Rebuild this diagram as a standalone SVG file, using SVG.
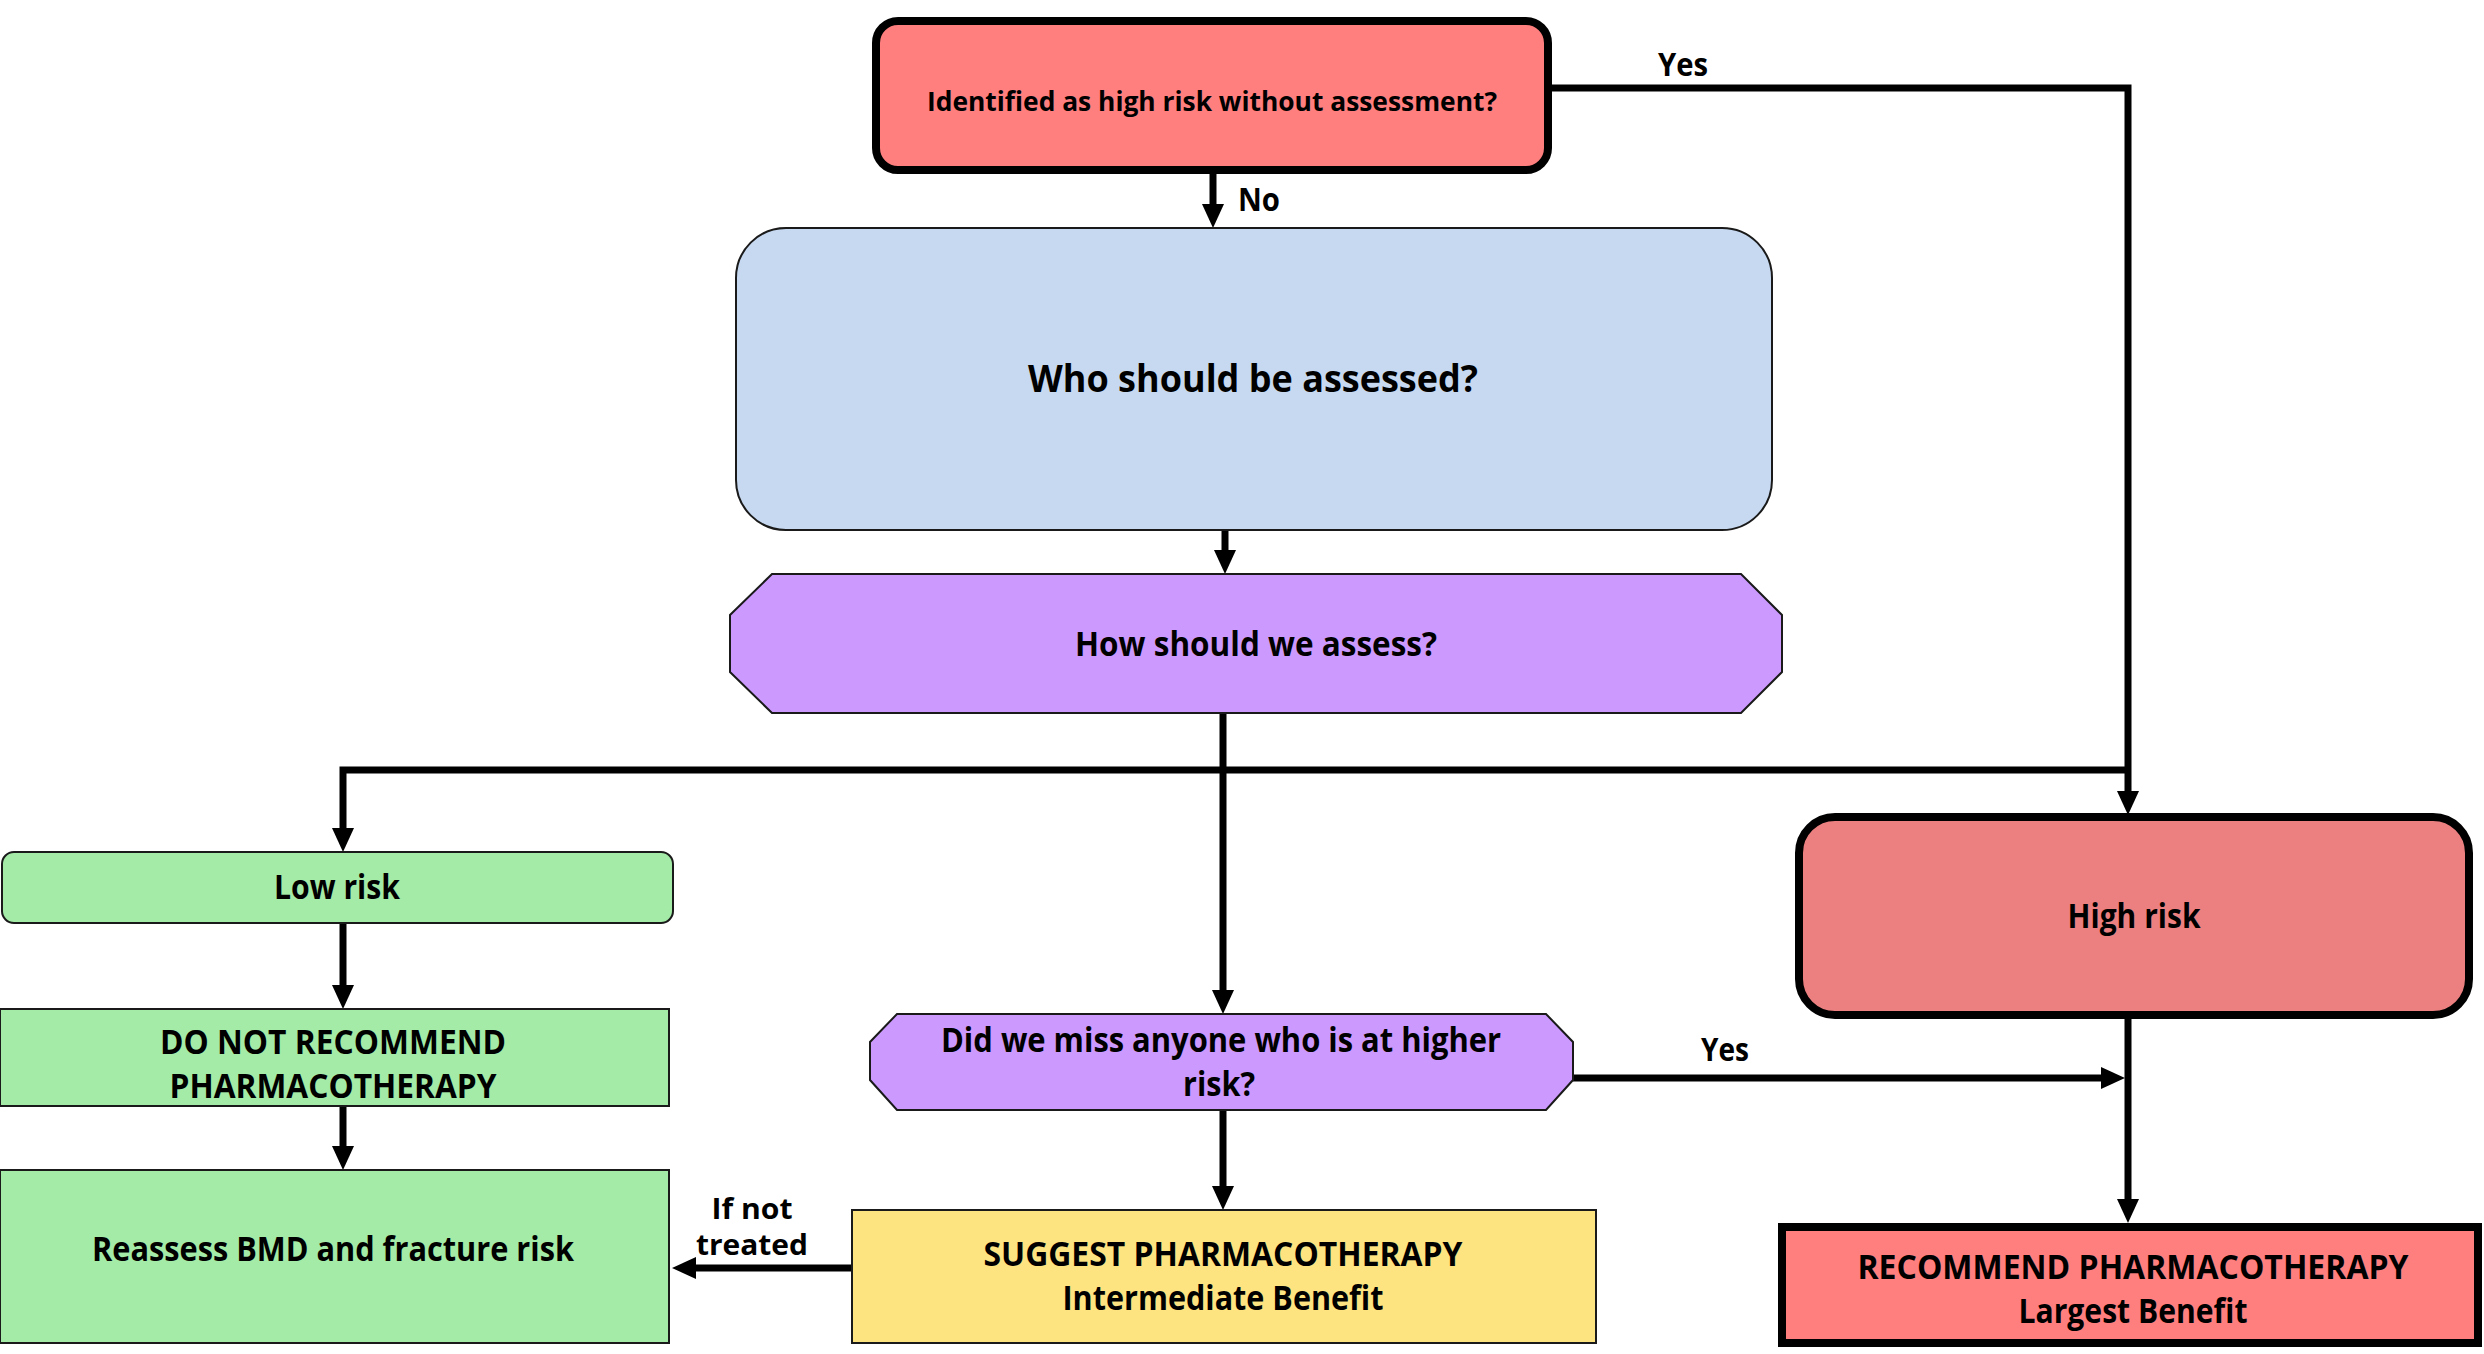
<svg xmlns="http://www.w3.org/2000/svg" width="2484" height="1354" viewBox="0 0 2484 1354">
<style>
  text { font-family: "Open Sans", "Liberation Sans", sans-serif; font-weight: 700; fill: #000; text-anchor: middle; }
  .t34 { font-size: 34px; }
  .t26 { font-size: 26px; }
  .t37 { font-size: 37px; }
  .lbl { font-size: 32px; }
  .lbs { font-size: 29px; }
  .thin { stroke: #1a1a1a; stroke-width: 2; }
  .thick { stroke: #000; stroke-width: 8; }
  .conn { fill: none; stroke: #000; stroke-width: 7; }
</style>
<defs>
  <marker id="arr" markerUnits="userSpaceOnUse" markerWidth="24" markerHeight="22" refX="0" refY="11" orient="auto">
    <path d="M0,0 L24,11 L0,22 z" fill="#000"/>
  </marker>
</defs>
<rect width="2484" height="1354" fill="#fff"/>

<g id="connectors">
  <path class="conn" d="M1213,174 V204" marker-end="url(#arr)"/>
  <path class="conn" d="M1551,88 H2128 V791" marker-end="url(#arr)"/>
  <path class="conn" d="M1225,531 V550" marker-end="url(#arr)"/>
  <path class="conn" d="M1223,714 V990" marker-end="url(#arr)"/>
  <path class="conn" d="M2128,770 H343 V828" marker-end="url(#arr)"/>
  <path class="conn" d="M343,923 V985" marker-end="url(#arr)"/>
  <path class="conn" d="M343,1106 V1146" marker-end="url(#arr)"/>
  <path class="conn" d="M1223,1110 V1186" marker-end="url(#arr)"/>
  <path class="conn" d="M852,1268 H696" marker-end="url(#arr)"/>
  <path class="conn" d="M1573,1078 H2101" marker-end="url(#arr)"/>
  <path class="conn" d="M2128,1019 V1199" marker-end="url(#arr)"/>
  <text class="lbl" x="1683" y="76" textLength="50" lengthAdjust="spacingAndGlyphs">Yes</text>
  <text class="lbl" x="1259" y="211" textLength="42" lengthAdjust="spacingAndGlyphs">No</text>
  <text class="lbl" x="1725" y="1061" textLength="48" lengthAdjust="spacingAndGlyphs">Yes</text>
  <text class="lbs" x="752" y="1219" textLength="81" lengthAdjust="spacingAndGlyphs">If not</text>
  <text class="lbs" x="752" y="1255" textLength="112" lengthAdjust="spacingAndGlyphs">treated</text>
</g>

<g id="n-identified">
  <rect class="thick" x="876" y="21" width="672" height="149" rx="22" fill="#FF7F7F"/>
  <text class="t26" x="1212" y="111" textLength="570" lengthAdjust="spacingAndGlyphs">Identified as high risk without assessment?</text>
</g>

<g id="n-who">
  <rect class="thin" x="736" y="228" width="1036" height="302" rx="50" fill="#C6D9F1"/>
  <text class="t37" x="1253" y="392" textLength="450" lengthAdjust="spacingAndGlyphs">Who should be assessed?</text>
</g>

<g id="n-how">
  <polygon class="thin" points="772,574 1741,574 1782,615 1782,672 1741,713 772,713 730,672 730,615" fill="#CC99FF"/>
  <text class="t34" x="1256" y="656" textLength="362" lengthAdjust="spacingAndGlyphs">How should we assess?</text>
</g>

<g id="n-low">
  <rect class="thin" x="2" y="852" width="671" height="71" rx="12" fill="#A3EBA7"/>
  <text class="t34" x="337" y="899" textLength="126" lengthAdjust="spacingAndGlyphs">Low risk</text>
</g>

<g id="n-donot">
  <rect class="thin" x="0" y="1009" width="669" height="97" fill="#A3EBA7"/>
  <text class="t34" x="333" y="1054" textLength="346" lengthAdjust="spacingAndGlyphs">DO NOT RECOMMEND</text>
  <text class="t34" x="333" y="1098" textLength="327" lengthAdjust="spacingAndGlyphs">PHARMACOTHERAPY</text>
</g>

<g id="n-reassess">
  <rect class="thin" x="0" y="1170" width="669" height="173" fill="#A3EBA7"/>
  <text class="t34" x="333" y="1261" textLength="482" lengthAdjust="spacingAndGlyphs">Reassess BMD and fracture risk</text>
</g>

<g id="n-miss">
  <polygon class="thin" points="897,1014 1546,1014 1573,1042 1573,1080 1546,1110 897,1110 870,1080 870,1042" fill="#CC99FF"/>
  <text class="t34" x="1221" y="1052" textLength="560" lengthAdjust="spacingAndGlyphs">Did we miss anyone who is at higher</text>
  <text class="t34" x="1219" y="1096" textLength="72" lengthAdjust="spacingAndGlyphs">risk?</text>
</g>

<g id="n-suggest">
  <rect class="thin" x="852" y="1210" width="744" height="133" fill="#FEE381"/>
  <text class="t34" x="1223" y="1266" textLength="479" lengthAdjust="spacingAndGlyphs">SUGGEST PHARMACOTHERAPY</text>
  <text class="t34" x="1223" y="1310" textLength="321" lengthAdjust="spacingAndGlyphs">Intermediate Benefit</text>
</g>

<g id="n-high">
  <rect class="thick" x="1799" y="817" width="670" height="198" rx="36" fill="#EC8080"/>
  <text class="t34" x="2134" y="928" textLength="133" lengthAdjust="spacingAndGlyphs">High risk</text>
</g>

<g id="n-recommend">
  <rect class="thick" x="1782" y="1227" width="696" height="116" fill="#FF7F7F"/>
  <text class="t34" x="2133" y="1279" textLength="551" lengthAdjust="spacingAndGlyphs">RECOMMEND PHARMACOTHERAPY</text>
  <text class="t34" x="2133" y="1323" textLength="229" lengthAdjust="spacingAndGlyphs">Largest Benefit</text>
</g>
</svg>
